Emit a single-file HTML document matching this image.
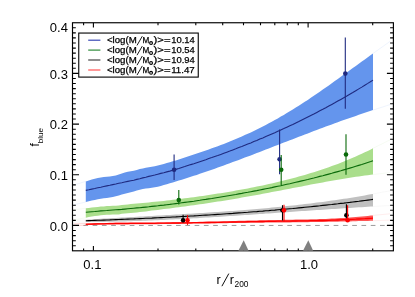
<!DOCTYPE html>
<html><head><meta charset="utf-8"><title>f_blue</title>
<style>
html,body{margin:0;padding:0;background:#fff;}
body{width:415px;height:297px;overflow:hidden;position:relative;font-family:"Liberation Sans",sans-serif;}
svg text{font-family:"Liberation Sans",sans-serif;fill:#000;}
svg .lg text{stroke:#000;stroke-width:0.25px;}
</style></head><body>
<svg width="415" height="297" viewBox="0 0 415 297" style="position:absolute;left:0;top:0;will-change:transform">
<line x1="72.5" y1="225.45" x2="393.4" y2="225.45" stroke="#909090" stroke-width="0.9" stroke-dasharray="4.7 4.57" stroke-dashoffset="-1.6"/>
<polygon points="85.8,181.4 88.8,180.4 91.8,179.5 94.8,178.7 97.8,178.0 100.8,177.5 103.8,177.1 106.8,176.8 109.8,176.5 112.8,176.0 115.8,175.5 118.8,174.6 121.8,173.4 124.8,172.5 127.8,171.8 130.8,171.3 133.8,170.7 136.8,169.9 139.8,169.0 142.8,168.4 145.8,167.8 148.8,167.3 151.8,166.8 154.8,166.2 157.8,165.5 160.8,164.8 163.8,164.0 166.8,163.1 169.8,162.2 172.8,161.3 175.8,160.4 178.8,159.4 181.8,158.4 184.8,157.4 187.8,156.4 190.8,155.5 193.8,154.5 196.8,153.5 199.8,152.5 202.8,151.5 205.8,150.4 208.8,149.4 211.8,148.3 214.8,147.3 217.8,146.2 220.8,145.0 223.8,143.9 226.8,142.7 229.8,141.5 232.8,140.3 235.8,139.0 238.8,137.8 241.8,136.5 244.8,135.1 247.8,133.8 250.8,132.4 253.8,130.9 256.8,129.5 259.8,128.0 262.8,126.5 265.8,124.9 268.8,123.3 271.8,121.7 274.8,120.0 277.8,118.4 280.8,116.6 283.8,114.9 286.8,113.1 289.8,111.3 292.8,109.5 295.8,107.6 298.8,105.7 301.8,103.8 304.8,101.8 307.8,99.9 310.8,97.8 313.8,95.8 316.8,93.8 319.8,91.7 322.8,89.6 325.8,87.5 328.8,85.4 331.8,83.3 334.8,81.1 337.8,79.0 340.8,76.8 343.8,74.6 346.8,72.4 349.8,70.2 352.8,68.1 355.8,65.9 358.8,63.7 361.8,61.5 364.8,59.4 367.8,57.2 370.8,55.1 373.0,53.5 373.0,110.1 370.8,110.8 367.8,111.8 364.8,112.8 361.8,113.8 358.8,114.8 355.8,115.9 352.8,116.9 349.8,117.9 346.8,119.0 343.8,120.0 340.8,121.1 337.8,122.2 334.8,123.3 331.8,124.4 328.8,125.5 325.8,126.6 322.8,127.7 319.8,128.8 316.8,130.0 313.8,131.1 310.8,132.2 307.8,133.4 304.8,134.5 301.8,135.7 298.8,136.8 295.8,138.0 292.8,139.2 289.8,140.3 286.8,141.5 283.8,142.6 280.8,143.8 277.8,145.0 274.8,146.1 271.8,147.3 268.8,148.5 265.8,149.6 262.8,150.8 259.8,151.9 256.8,153.1 253.8,154.2 250.8,155.4 247.8,156.5 244.8,157.6 241.8,158.8 238.8,159.9 235.8,161.0 232.8,162.1 229.8,163.2 226.8,164.3 223.8,165.4 220.8,166.5 217.8,167.6 214.8,168.7 211.8,169.7 208.8,170.8 205.8,171.8 202.8,172.8 199.8,173.8 196.8,174.9 193.8,175.8 190.8,176.8 187.8,177.8 184.8,178.8 181.8,179.7 178.8,180.6 175.8,181.6 172.8,182.4 169.8,183.3 166.8,184.3 163.8,185.1 160.8,185.9 157.8,186.7 154.8,187.3 151.8,187.8 148.8,188.2 145.8,188.6 142.8,189.1 139.8,189.7 136.8,190.6 133.8,191.5 130.8,192.2 127.8,192.9 124.8,193.7 121.8,194.5 118.8,195.5 115.8,196.3 112.8,196.9 109.8,197.4 106.8,197.9 103.8,198.3 100.8,198.8 97.8,199.3 94.8,199.9 91.8,200.6 88.8,201.3 85.8,202.0" fill="#6495ed"/>
<polyline points="85.8,190.4 88.8,189.8 91.8,189.1 94.8,188.5 97.8,187.8 100.8,187.2 103.8,186.5 106.8,185.9 109.8,185.3 112.8,184.6 115.8,184.0 118.8,183.3 121.8,182.7 124.8,182.0 127.8,181.4 130.8,180.8 133.8,180.2 136.8,179.4 139.8,178.7 142.8,177.9 145.8,177.2 148.8,176.4 151.8,175.7 154.8,175.0 157.8,174.2 160.8,173.4 163.8,172.7 166.8,171.9 169.8,171.1 172.8,170.2 175.8,169.4 178.8,168.5 181.8,167.5 184.8,166.6 187.8,165.6 190.8,164.6 193.8,163.7 196.8,162.7 199.8,161.7 202.8,160.7 205.8,159.7 208.8,158.6 211.8,157.6 214.8,156.5 217.8,155.5 220.8,154.4 223.8,153.3 226.8,152.2 229.8,151.1 232.8,149.9 235.8,148.8 238.8,147.6 241.8,146.5 244.8,145.3 247.8,144.1 250.8,142.9 253.8,141.6 256.8,140.4 259.8,139.1 262.8,137.9 265.8,136.6 268.8,135.3 271.8,134.0 274.8,132.7 277.8,131.3 280.8,129.9 283.8,128.6 286.8,127.2 289.8,125.8 292.8,124.4 295.8,122.9 298.8,121.5 301.8,120.0 304.8,118.5 307.8,117.0 310.8,115.5 313.8,114.0 316.8,112.4 319.8,110.8 322.8,109.3 325.8,107.7 328.8,106.0 331.8,104.4 334.8,102.8 337.8,101.1 340.8,99.4 343.8,97.7 346.8,96.0 349.8,94.2 352.8,92.5 355.8,90.7 358.8,88.9 361.8,87.1 364.8,85.2 367.8,83.4 370.8,81.5 373.0,80.1" fill="none" stroke="#1f2a80" stroke-width="1.1"/>
<polygon points="85.8,208.3 88.8,207.9 91.8,207.5 94.8,207.2 97.8,206.9 100.8,206.6 103.8,206.4 106.8,206.1 109.8,206.0 112.8,205.8 115.8,205.7 118.8,205.5 121.8,205.0 124.8,204.7 127.8,204.4 130.8,204.1 133.8,203.8 136.8,203.6 139.8,203.3 142.8,203.0 145.8,202.7 148.8,202.4 151.8,202.1 154.8,201.8 157.8,201.5 160.8,201.2 163.8,200.9 166.8,200.5 169.8,200.2 172.8,199.8 175.8,199.5 178.8,199.1 181.8,198.7 184.8,198.3 187.8,198.0 190.8,197.6 193.8,197.2 196.8,196.7 199.8,196.3 202.8,195.9 205.8,195.5 208.8,195.0 211.8,194.6 214.8,194.1 217.8,193.6 220.8,193.2 223.8,192.7 226.8,192.2 229.8,191.7 232.8,191.2 235.8,190.6 238.8,190.1 241.8,189.6 244.8,189.0 247.8,188.4 250.8,187.8 253.8,187.3 256.8,186.6 259.8,186.0 262.8,185.4 265.8,184.8 268.8,184.1 271.8,183.4 274.8,182.7 277.8,182.0 280.8,181.3 283.8,180.6 286.8,179.8 289.8,179.1 292.8,178.3 295.8,177.5 298.8,176.6 301.8,175.8 304.8,174.9 307.8,174.0 310.8,173.1 313.8,172.2 316.8,171.3 319.8,170.3 322.8,169.3 325.8,168.3 328.8,167.2 331.8,166.1 334.8,165.0 337.8,163.9 340.8,162.7 343.8,161.6 346.8,160.3 349.8,159.1 352.8,157.8 355.8,156.5 358.8,155.1 361.8,153.8 364.8,152.3 367.8,150.9 370.8,149.4 373.0,148.3 373.0,174.6 370.8,174.8 367.8,175.2 364.8,175.6 361.8,176.0 358.8,176.4 355.8,176.8 352.8,177.2 349.8,177.7 346.8,178.2 343.8,178.7 340.8,179.2 337.8,179.7 334.8,180.2 331.8,180.7 328.8,181.3 325.8,181.8 322.8,182.4 319.8,182.9 316.8,183.5 313.8,184.0 310.8,184.6 307.8,185.2 304.8,185.8 301.8,186.4 298.8,186.9 295.8,187.5 292.8,188.1 289.8,188.7 286.8,189.3 283.8,189.8 280.8,190.4 277.8,191.0 274.8,191.6 271.8,192.1 268.8,192.7 265.8,193.3 262.8,193.8 259.8,194.4 256.8,195.0 253.8,195.5 250.8,196.0 247.8,196.6 244.8,197.1 241.8,197.6 238.8,198.2 235.8,198.7 232.8,199.2 229.8,199.7 226.8,200.2 223.8,200.7 220.8,201.2 217.8,201.6 214.8,202.1 211.8,202.6 208.8,203.0 205.8,203.5 202.8,203.9 199.8,204.3 196.8,204.8 193.8,205.2 190.8,205.6 187.8,206.0 184.8,206.4 181.8,206.8 178.8,207.2 175.8,207.6 172.8,208.0 169.8,208.4 166.8,208.8 163.8,209.1 160.8,209.5 157.8,209.9 154.8,210.3 151.8,210.6 148.8,211.0 145.8,211.4 142.8,211.8 139.8,212.1 136.8,212.5 133.8,212.8 130.8,213.0 127.8,213.2 124.8,213.4 121.8,213.8 118.8,214.4 115.8,214.6 112.8,214.6 109.8,214.7 106.8,214.8 103.8,215.0 100.8,215.3 97.8,215.7 94.8,216.1 91.8,216.6 88.8,217.1 85.8,217.7" fill="#aade8c"/>
<polyline points="85.8,212.3 88.8,212.0 91.8,211.7 94.8,211.5 97.8,211.2 100.8,210.9 103.8,210.7 106.8,210.5 109.8,210.2 112.8,210.0 115.8,209.8 118.8,209.6 121.8,209.4 124.8,209.1 127.8,208.8 130.8,208.5 133.8,208.2 136.8,207.9 139.8,207.7 142.8,207.4 145.8,207.1 148.8,206.8 151.8,206.4 154.8,206.1 157.8,205.8 160.8,205.4 163.8,205.1 166.8,204.7 169.8,204.4 172.8,204.0 175.8,203.6 178.8,203.2 181.8,202.8 184.8,202.4 187.8,202.0 190.8,201.6 193.8,201.2 196.8,200.7 199.8,200.3 202.8,199.8 205.8,199.4 208.8,198.9 211.8,198.5 214.8,198.0 217.8,197.5 220.8,197.0 223.8,196.5 226.8,196.0 229.8,195.5 232.8,195.0 235.8,194.5 238.8,193.9 241.8,193.4 244.8,192.8 247.8,192.3 250.8,191.7 253.8,191.1 256.8,190.6 259.8,190.0 262.8,189.4 265.8,188.8 268.8,188.2 271.8,187.6 274.8,186.9 277.8,186.3 280.8,185.7 283.8,185.0 286.8,184.3 289.8,183.7 292.8,183.0 295.8,182.3 298.8,181.6 301.8,180.9 304.8,180.2 307.8,179.5 310.8,178.7 313.8,178.0 316.8,177.2 319.8,176.4 322.8,175.7 325.8,174.9 328.8,174.1 331.8,173.3 334.8,172.4 337.8,171.6 340.8,170.8 343.8,169.9 346.8,169.0 349.8,168.1 352.8,167.2 355.8,166.3 358.8,165.4 361.8,164.5 364.8,163.5 367.8,162.5 370.8,161.6 373.0,160.8" fill="none" stroke="#0a6a0a" stroke-width="1.1"/>
<polygon points="85.8,219.8 88.8,219.6 91.8,219.4 94.8,219.2 97.8,219.0 100.8,218.8 103.8,218.6 106.8,218.5 109.8,218.3 112.8,218.1 115.8,217.9 118.8,217.7 121.8,217.6 124.8,217.4 127.8,217.2 130.8,217.1 133.8,216.9 136.8,216.7 139.8,216.6 142.8,216.4 145.8,216.2 148.8,216.0 151.8,215.9 154.8,215.7 157.8,215.5 160.8,215.4 163.8,215.2 166.8,215.0 169.8,214.9 172.8,214.7 175.8,214.5 178.8,214.4 181.8,214.2 184.8,214.0 187.8,213.8 190.8,213.7 193.8,213.5 196.8,213.3 199.8,213.1 202.8,212.9 205.8,212.7 208.8,212.5 211.8,212.3 214.8,212.1 217.8,211.9 220.8,211.7 223.8,211.5 226.8,211.3 229.8,211.1 232.8,210.9 235.8,210.7 238.8,210.4 241.8,210.2 244.8,210.0 247.8,209.7 250.8,209.5 253.8,209.2 256.8,209.0 259.8,208.7 262.8,208.4 265.8,208.2 268.8,207.9 271.8,207.6 274.8,207.3 277.8,207.0 280.8,206.7 283.8,206.4 286.8,206.1 289.8,205.8 292.8,205.5 295.8,205.2 298.8,204.8 301.8,204.5 304.8,204.1 307.8,203.8 310.8,203.4 313.8,203.0 316.8,202.6 319.8,202.3 322.8,201.9 325.8,201.4 328.8,201.0 331.8,200.6 334.8,200.2 337.8,199.7 340.8,199.3 343.8,198.8 346.8,198.4 349.8,197.9 352.8,197.4 355.8,196.9 358.8,196.4 361.8,195.9 364.8,195.4 367.8,194.8 370.8,194.3 373.0,193.9 373.0,206.5 370.8,206.6 367.8,206.8 364.8,207.0 361.8,207.2 358.8,207.3 355.8,207.5 352.8,207.7 349.8,207.9 346.8,208.1 343.8,208.3 340.8,208.5 337.8,208.7 334.8,208.9 331.8,209.1 328.8,209.3 325.8,209.5 322.8,209.7 319.8,209.9 316.8,210.1 313.8,210.3 310.8,210.5 307.8,210.7 304.8,210.9 301.8,211.1 298.8,211.3 295.8,211.5 292.8,211.7 289.8,212.0 286.8,212.2 283.8,212.4 280.8,212.6 277.8,212.8 274.8,213.0 271.8,213.2 268.8,213.4 265.8,213.6 262.8,213.9 259.8,214.1 256.8,214.3 253.8,214.5 250.8,214.7 247.8,214.9 244.8,215.1 241.8,215.3 238.8,215.5 235.8,215.7 232.8,215.9 229.8,216.1 226.8,216.3 223.8,216.5 220.8,216.7 217.8,216.9 214.8,217.1 211.8,217.3 208.8,217.5 205.8,217.6 202.8,217.8 199.8,218.0 196.8,218.2 193.8,218.3 190.8,218.5 187.8,218.7 184.8,218.8 181.8,219.0 178.8,219.2 175.8,219.3 172.8,219.5 169.8,219.6 166.8,219.8 163.8,219.9 160.8,220.0 157.8,220.2 154.8,220.3 151.8,220.4 148.8,220.6 145.8,220.7 142.8,220.8 139.8,220.9 136.8,221.0 133.8,221.1 130.8,221.2 127.8,221.3 124.8,221.4 121.8,221.5 118.8,221.6 115.8,221.6 112.8,221.7 109.8,221.8 106.8,221.8 103.8,221.9 100.8,221.9 97.8,221.9 94.8,222.0 91.8,222.0 88.8,222.0 85.8,222.1" fill="#c0c0c0"/>
<polyline points="85.8,220.7 88.8,220.6 91.8,220.5 94.8,220.4 97.8,220.3 100.8,220.2 103.8,220.1 106.8,220.0 109.8,219.9 112.8,219.7 115.8,219.6 118.8,219.5 121.8,219.4 124.8,219.3 127.8,219.1 130.8,219.0 133.8,218.9 136.8,218.7 139.8,218.6 142.8,218.5 145.8,218.3 148.8,218.2 151.8,218.1 154.8,217.9 157.8,217.8 160.8,217.6 163.8,217.5 166.8,217.3 169.8,217.2 172.8,217.0 175.8,216.9 178.8,216.7 181.8,216.5 184.8,216.4 187.8,216.2 190.8,216.0 193.8,215.9 196.8,215.7 199.8,215.5 202.8,215.3 205.8,215.1 208.8,215.0 211.8,214.8 214.8,214.6 217.8,214.4 220.8,214.2 223.8,214.0 226.8,213.8 229.8,213.6 232.8,213.4 235.8,213.1 238.8,212.9 241.8,212.7 244.8,212.5 247.8,212.3 250.8,212.0 253.8,211.8 256.8,211.6 259.8,211.3 262.8,211.1 265.8,210.8 268.8,210.6 271.8,210.3 274.8,210.1 277.8,209.8 280.8,209.5 283.8,209.3 286.8,209.0 289.8,208.7 292.8,208.5 295.8,208.2 298.8,207.9 301.8,207.6 304.8,207.3 307.8,207.0 310.8,206.7 313.8,206.4 316.8,206.1 319.8,205.8 322.8,205.4 325.8,205.1 328.8,204.8 331.8,204.5 334.8,204.1 337.8,203.8 340.8,203.4 343.8,203.1 346.8,202.7 349.8,202.4 352.8,202.0 355.8,201.6 358.8,201.3 361.8,200.9 364.8,200.5 367.8,200.1 370.8,199.7 373.0,199.4" fill="none" stroke="#000" stroke-width="1.15"/>
<polygon points="85.8,223.5 88.8,223.4 91.8,223.3 94.8,223.2 97.8,223.1 100.8,223.0 103.8,223.0 106.8,222.9 109.8,222.8 112.8,222.8 115.8,222.7 118.8,222.7 121.8,222.7 124.8,222.7 127.8,222.7 130.8,222.6 133.8,222.6 136.8,222.6 139.8,222.6 142.8,222.6 145.8,222.6 148.8,222.5 151.8,222.5 154.8,222.5 157.8,222.4 160.8,222.4 163.8,222.4 166.8,222.3 169.8,222.3 172.8,222.3 175.8,222.2 178.8,222.2 181.8,222.1 184.8,222.1 187.8,222.0 190.8,222.0 193.8,221.9 196.8,221.9 199.8,221.8 202.8,221.8 205.8,221.7 208.8,221.6 211.8,221.6 214.8,221.5 217.8,221.4 220.8,221.3 223.8,221.2 226.8,221.2 229.8,221.1 232.8,221.0 235.8,220.9 238.8,220.8 241.8,220.8 244.8,220.7 247.8,220.6 250.8,220.5 253.8,220.4 256.8,220.4 259.8,220.3 262.8,220.2 265.8,220.2 268.8,220.1 271.8,220.1 274.8,220.0 277.8,219.9 280.8,219.9 283.8,219.8 286.8,219.8 289.8,219.7 292.8,219.7 295.8,219.6 298.8,219.6 301.8,219.5 304.8,219.5 307.8,219.4 310.8,219.3 313.8,219.2 316.8,219.2 319.8,219.1 322.8,219.0 325.8,218.9 328.8,218.8 331.8,218.6 334.8,218.5 337.8,218.3 340.8,218.1 343.8,217.9 346.8,217.7 349.8,217.5 352.8,217.2 355.8,217.0 358.8,216.7 361.8,216.4 364.8,216.2 367.8,215.9 370.8,215.6 373.0,215.4 373.0,220.7 370.8,220.8 367.8,220.9 364.8,220.9 361.8,221.0 358.8,221.1 355.8,221.2 352.8,221.3 349.8,221.4 346.8,221.4 343.8,221.5 340.8,221.6 337.8,221.7 334.8,221.7 331.8,221.8 328.8,221.8 325.8,221.9 322.8,221.9 319.8,222.0 316.8,222.0 313.8,222.1 310.8,222.1 307.8,222.2 304.8,222.2 301.8,222.2 298.8,222.3 295.8,222.3 292.8,222.3 289.8,222.4 286.8,222.4 283.8,222.4 280.8,222.5 277.8,222.5 274.8,222.5 271.8,222.6 268.8,222.6 265.8,222.6 262.8,222.7 259.8,222.7 256.8,222.7 253.8,222.8 250.8,222.8 247.8,222.9 244.8,222.9 241.8,223.0 238.8,223.0 235.8,223.0 232.8,223.1 229.8,223.1 226.8,223.2 223.8,223.2 220.8,223.3 217.8,223.3 214.8,223.4 211.8,223.4 208.8,223.4 205.8,223.5 202.8,223.5 199.8,223.6 196.8,223.6 193.8,223.6 190.8,223.7 187.8,223.7 184.8,223.8 181.8,223.8 178.8,223.9 175.8,223.9 172.8,224.0 169.8,224.0 166.8,224.1 163.8,224.1 160.8,224.1 157.8,224.2 154.8,224.2 151.8,224.2 148.8,224.3 145.8,224.3 142.8,224.3 139.8,224.3 136.8,224.3 133.8,224.3 130.8,224.3 127.8,224.3 124.8,224.3 121.8,224.3 118.8,224.3 115.8,224.3 112.8,224.4 109.8,224.4 106.8,224.5 103.8,224.5 100.8,224.6 97.8,224.7 94.8,224.8 91.8,225.0 88.8,225.1 85.8,225.2" fill="#ff5555"/>
<polyline points="85.8,224.3 88.8,224.2 91.8,224.1 94.8,224.0 97.8,223.9 100.8,223.8 103.8,223.8 106.8,223.7 109.8,223.6 112.8,223.6 115.8,223.5 118.8,223.5 121.8,223.5 124.8,223.5 127.8,223.5 130.8,223.4 133.8,223.4 136.8,223.4 139.8,223.4 142.8,223.4 145.8,223.4 148.8,223.3 151.8,223.3 154.8,223.3 157.8,223.2 160.8,223.2 163.8,223.2 166.8,223.1 169.8,223.1 172.8,223.0 175.8,223.0 178.8,223.0 181.8,222.9 184.8,222.9 187.8,222.8 190.8,222.8 193.8,222.7 196.8,222.7 199.8,222.6 202.8,222.6 205.8,222.5 208.8,222.5 211.8,222.4 214.8,222.4 217.8,222.3 220.8,222.3 223.8,222.2 226.8,222.1 229.8,222.1 232.8,222.0 235.8,222.0 238.8,221.9 241.8,221.8 244.8,221.8 247.8,221.7 250.8,221.7 253.8,221.6 256.8,221.6 259.8,221.5 262.8,221.5 265.8,221.4 268.8,221.4 271.8,221.3 274.8,221.3 277.8,221.2 280.8,221.2 283.8,221.1 286.8,221.1 289.8,221.1 292.8,221.0 295.8,221.0 298.8,220.9 301.8,220.9 304.8,220.8 307.8,220.8 310.8,220.7 313.8,220.7 316.8,220.6 319.8,220.5 322.8,220.5 325.8,220.4 328.8,220.3 331.8,220.2 334.8,220.1 337.8,220.0 340.8,219.9 343.8,219.7 346.8,219.6 349.8,219.5 352.8,219.3 355.8,219.2 358.8,219.0 361.8,218.8 364.8,218.7 367.8,218.5 370.8,218.3 373.0,218.2" fill="none" stroke="#ff0000" stroke-width="1.3"/>
<line x1="373.0" y1="53.5" x2="390.0" y2="41.4" stroke="#6495ed" stroke-width="0.8" opacity="0.13"/>
<line x1="85.8" y1="181.4" x2="73.8" y2="185.0" stroke="#6495ed" stroke-width="0.8" opacity="0.13"/>
<line x1="373.0" y1="110.1" x2="390.0" y2="104.6" stroke="#6495ed" stroke-width="0.8" opacity="0.13"/>
<line x1="85.8" y1="202.0" x2="73.8" y2="204.8" stroke="#6495ed" stroke-width="0.8" opacity="0.13"/>
<line x1="373.0" y1="148.3" x2="390.0" y2="139.9" stroke="#aade8c" stroke-width="0.8" opacity="0.13"/>
<line x1="85.8" y1="208.3" x2="73.8" y2="209.8" stroke="#aade8c" stroke-width="0.8" opacity="0.13"/>
<line x1="373.0" y1="174.6" x2="390.0" y2="172.5" stroke="#aade8c" stroke-width="0.8" opacity="0.13"/>
<line x1="85.8" y1="217.7" x2="73.8" y2="219.9" stroke="#aade8c" stroke-width="0.8" opacity="0.13"/>
<line x1="373.0" y1="193.9" x2="390.0" y2="190.8" stroke="#c0c0c0" stroke-width="0.8" opacity="0.13"/>
<line x1="85.8" y1="219.8" x2="73.8" y2="220.5" stroke="#c0c0c0" stroke-width="0.8" opacity="0.13"/>
<line x1="373.0" y1="206.5" x2="390.0" y2="205.5" stroke="#c0c0c0" stroke-width="0.8" opacity="0.13"/>
<line x1="85.8" y1="222.1" x2="73.8" y2="222.1" stroke="#c0c0c0" stroke-width="0.8" opacity="0.13"/>
<line x1="373.0" y1="215.4" x2="390.0" y2="213.8" stroke="#ff5555" stroke-width="0.8" opacity="0.13"/>
<line x1="85.8" y1="223.5" x2="73.8" y2="223.9" stroke="#ff5555" stroke-width="0.8" opacity="0.3"/>
<line x1="373.0" y1="220.7" x2="390.0" y2="220.2" stroke="#ff5555" stroke-width="0.8" opacity="0.13"/>
<line x1="85.8" y1="225.2" x2="73.8" y2="225.7" stroke="#ff5555" stroke-width="0.8" opacity="0.3"/>
<line x1="174.1" y1="154.5" x2="174.1" y2="179.9" stroke="#1f2a80" stroke-width="1.1"/>
<circle cx="174.1" cy="169.7" r="2.3" fill="#1f2a80"/>
<line x1="279.6" y1="129.6" x2="279.6" y2="174.2" stroke="#1f2a80" stroke-width="1.1"/>
<circle cx="279.6" cy="159.3" r="2.3" fill="#1f2a80"/>
<line x1="345.3" y1="37.6" x2="345.3" y2="108.8" stroke="#1f2a80" stroke-width="1.1"/>
<circle cx="345.3" cy="73.6" r="2.3" fill="#1f2a80"/>
<line x1="178.8" y1="190.1" x2="178.8" y2="204.6" stroke="#0a6a0a" stroke-width="1.1"/>
<circle cx="178.8" cy="200.1" r="2.3" fill="#0a6a0a"/>
<line x1="281.2" y1="155.0" x2="281.2" y2="185.2" stroke="#0a6a0a" stroke-width="1.1"/>
<circle cx="281.2" cy="169.8" r="2.3" fill="#0a6a0a"/>
<line x1="346.0" y1="134.2" x2="346.0" y2="174.7" stroke="#0a6a0a" stroke-width="1.1"/>
<circle cx="346.0" cy="154.5" r="2.3" fill="#0a6a0a"/>
<line x1="183.1" y1="214.8" x2="183.1" y2="222.3" stroke="#000" stroke-width="1.1"/>
<circle cx="183.1" cy="220.2" r="2.3" fill="#000"/>
<line x1="282.5" y1="205.2" x2="282.5" y2="220.4" stroke="#000" stroke-width="1.1"/>
<circle cx="282.5" cy="210.2" r="2.3" fill="#000"/>
<line x1="346.4" y1="204.3" x2="346.4" y2="218.5" stroke="#000" stroke-width="1.1"/>
<circle cx="346.4" cy="215.3" r="2.3" fill="#000"/>
<line x1="187.5" y1="215.1" x2="187.5" y2="224.9" stroke="#ff0000" stroke-width="1.1"/>
<circle cx="187.5" cy="220.2" r="2.3" fill="#ff0000"/>
<line x1="284.0" y1="204.8" x2="284.0" y2="221.5" stroke="#ff0000" stroke-width="1.1"/>
<circle cx="284.0" cy="210.2" r="2.3" fill="#ff0000"/>
<line x1="347.6" y1="205.2" x2="347.6" y2="221.0" stroke="#ff0000" stroke-width="1.1"/>
<circle cx="347.6" cy="220.3" r="2.3" fill="#ff0000"/>
<rect x="72.5" y="22.75" width="320.9" height="228.05" fill="none" stroke="#000" stroke-width="1.15"/>
<path d="M83.6,250.8v-2.4M83.6,22.75v2.4M93.4,250.8v-4.8M93.4,22.75v4.8M158.0,250.8v-2.4M158.0,22.75v2.4M195.8,250.8v-2.4M195.8,22.75v2.4M222.7,250.8v-2.4M222.7,22.75v2.4M243.5,250.8v-2.4M243.5,22.75v2.4M260.5,250.8v-2.4M260.5,22.75v2.4M274.8,250.8v-2.4M274.8,22.75v2.4M287.3,250.8v-2.4M287.3,22.75v2.4M298.3,250.8v-2.4M298.3,22.75v2.4M308.1,250.8v-4.8M308.1,22.75v4.8M372.7,250.8v-2.4M372.7,22.75v2.4M72.5,245.7h3.3M393.4,245.7h-3.3M72.5,240.7h3.3M393.4,240.7h-3.3M72.5,235.6h3.3M393.4,235.6h-3.3M72.5,230.5h3.3M393.4,230.5h-3.3M72.5,225.4h6.5M393.4,225.4h-6.5M72.5,220.4h3.3M393.4,220.4h-3.3M72.5,215.3h3.3M393.4,215.3h-3.3M72.5,210.2h3.3M393.4,210.2h-3.3M72.5,205.2h3.3M393.4,205.2h-3.3M72.5,200.1h3.3M393.4,200.1h-3.3M72.5,195.0h3.3M393.4,195.0h-3.3M72.5,190.0h3.3M393.4,190.0h-3.3M72.5,184.9h3.3M393.4,184.9h-3.3M72.5,179.8h3.3M393.4,179.8h-3.3M72.5,174.8h6.5M393.4,174.8h-6.5M72.5,169.7h3.3M393.4,169.7h-3.3M72.5,164.6h3.3M393.4,164.6h-3.3M72.5,159.6h3.3M393.4,159.6h-3.3M72.5,154.5h3.3M393.4,154.5h-3.3M72.5,149.4h3.3M393.4,149.4h-3.3M72.5,144.4h3.3M393.4,144.4h-3.3M72.5,139.3h3.3M393.4,139.3h-3.3M72.5,134.2h3.3M393.4,134.2h-3.3M72.5,129.2h3.3M393.4,129.2h-3.3M72.5,124.1h6.5M393.4,124.1h-6.5M72.5,119.0h3.3M393.4,119.0h-3.3M72.5,114.0h3.3M393.4,114.0h-3.3M72.5,108.9h3.3M393.4,108.9h-3.3M72.5,103.8h3.3M393.4,103.8h-3.3M72.5,98.7h3.3M393.4,98.7h-3.3M72.5,93.7h3.3M393.4,93.7h-3.3M72.5,88.6h3.3M393.4,88.6h-3.3M72.5,83.5h3.3M393.4,83.5h-3.3M72.5,78.5h3.3M393.4,78.5h-3.3M72.5,73.4h6.5M393.4,73.4h-6.5M72.5,68.3h3.3M393.4,68.3h-3.3M72.5,63.3h3.3M393.4,63.3h-3.3M72.5,58.2h3.3M393.4,58.2h-3.3M72.5,53.1h3.3M393.4,53.1h-3.3M72.5,48.1h3.3M393.4,48.1h-3.3M72.5,43.0h3.3M393.4,43.0h-3.3M72.5,37.9h3.3M393.4,37.9h-3.3M72.5,32.9h3.3M393.4,32.9h-3.3M72.5,27.8h3.3M393.4,27.8h-3.3" stroke="#000" stroke-width="1.1" fill="none"/>
<polygon points="238.4,250.8 248.6,250.8 243.7,240.3" fill="#808080"/>
<polygon points="303.0,250.8 313.2,250.8 308.3,240.3" fill="#808080"/>
<g class="lg">
<rect x="78.75" y="33.05" width="119.5" height="44.05" fill="#fff" stroke="#000" stroke-width="1.1"/>
<line x1="88.2" y1="40.2" x2="100.4" y2="40.2" stroke="#3848b4" stroke-width="1.2"/>
<text x="106.9" y="43.0" font-size="8.9" textLength="29.8" lengthAdjust="spacingAndGlyphs">&lt;log(M</text>
<line x1="137.0" y1="45.4" x2="142.3" y2="36.2" stroke="#000" stroke-width="0.9"/>
<text x="142.6" y="43.0" font-size="8.9" textLength="6.8" lengthAdjust="spacingAndGlyphs">M</text>
<circle cx="151.05" cy="43.10" r="1.45" fill="none" stroke="#000" stroke-width="1.05"/><circle cx="151.05" cy="43.10" r="0.55" fill="#444"/>
<text x="153.6" y="43.0" font-size="8.9" textLength="17.0" lengthAdjust="spacingAndGlyphs">)&gt;=</text>
<text x="171.2" y="43.0" font-size="8.9" textLength="23.5" lengthAdjust="spacingAndGlyphs">10.14</text>
<line x1="88.2" y1="50.1" x2="100.4" y2="50.1" stroke="#2e8b3a" stroke-width="1.2"/>
<text x="106.9" y="52.9" font-size="8.9" textLength="29.8" lengthAdjust="spacingAndGlyphs">&lt;log(M</text>
<line x1="137.0" y1="55.2" x2="142.3" y2="46.1" stroke="#000" stroke-width="0.9"/>
<text x="142.6" y="52.9" font-size="8.9" textLength="6.8" lengthAdjust="spacingAndGlyphs">M</text>
<circle cx="151.05" cy="53.00" r="1.45" fill="none" stroke="#000" stroke-width="1.05"/><circle cx="151.05" cy="53.00" r="0.55" fill="#444"/>
<text x="153.6" y="52.9" font-size="8.9" textLength="17.0" lengthAdjust="spacingAndGlyphs">)&gt;=</text>
<text x="171.2" y="52.9" font-size="8.9" textLength="23.5" lengthAdjust="spacingAndGlyphs">10.54</text>
<line x1="88.2" y1="60.0" x2="100.4" y2="60.0" stroke="#444444" stroke-width="1.2"/>
<text x="106.9" y="62.8" font-size="8.9" textLength="29.8" lengthAdjust="spacingAndGlyphs">&lt;log(M</text>
<line x1="137.0" y1="65.2" x2="142.3" y2="56.0" stroke="#000" stroke-width="0.9"/>
<text x="142.6" y="62.8" font-size="8.9" textLength="6.8" lengthAdjust="spacingAndGlyphs">M</text>
<circle cx="151.05" cy="62.90" r="1.45" fill="none" stroke="#000" stroke-width="1.05"/><circle cx="151.05" cy="62.90" r="0.55" fill="#444"/>
<text x="153.6" y="62.8" font-size="8.9" textLength="17.0" lengthAdjust="spacingAndGlyphs">)&gt;=</text>
<text x="171.2" y="62.8" font-size="8.9" textLength="23.5" lengthAdjust="spacingAndGlyphs">10.94</text>
<line x1="88.2" y1="70.0" x2="100.4" y2="70.0" stroke="#ff5252" stroke-width="1.2"/>
<text x="106.9" y="72.7" font-size="8.9" textLength="29.8" lengthAdjust="spacingAndGlyphs">&lt;log(M</text>
<line x1="137.0" y1="75.1" x2="142.3" y2="65.9" stroke="#000" stroke-width="0.9"/>
<text x="142.6" y="72.7" font-size="8.9" textLength="6.8" lengthAdjust="spacingAndGlyphs">M</text>
<circle cx="151.05" cy="72.80" r="1.45" fill="none" stroke="#000" stroke-width="1.05"/><circle cx="151.05" cy="72.80" r="0.55" fill="#444"/>
<text x="153.6" y="72.7" font-size="8.9" textLength="17.0" lengthAdjust="spacingAndGlyphs">)&gt;=</text>
<text x="171.2" y="72.7" font-size="8.9" textLength="23.5" lengthAdjust="spacingAndGlyphs">11.47</text>
</g>
<text x="67.9" y="31.7" font-size="13" text-anchor="end">0.4</text>
<text x="67.9" y="79.0" font-size="13" text-anchor="end">0.3</text>
<text x="67.9" y="129.4" font-size="13" text-anchor="end">0.2</text>
<text x="67.9" y="180.0" font-size="13" text-anchor="end">0.1</text>
<text x="67.9" y="230.6" font-size="13" text-anchor="end">0.0</text>
<text x="92.4" y="268.7" font-size="13" text-anchor="middle">0.1</text>
<text x="309" y="268.7" font-size="13" text-anchor="middle">1.0</text>
<text x="216.6" y="283.5" font-size="12.5">r</text><line x1="221.9" y1="286.2" x2="228.8" y2="273.6" stroke="#000" stroke-width="0.95"/><text x="229.8" y="283.5" font-size="12.5">r</text><text x="234.5" y="286.7" font-size="9" textLength="14" lengthAdjust="spacingAndGlyphs">200</text>
<text transform="translate(38.9,146.6) rotate(-90)" font-size="12">f<tspan font-size="8.1" dy="4">blue</tspan></text>
</svg>
</body></html>
